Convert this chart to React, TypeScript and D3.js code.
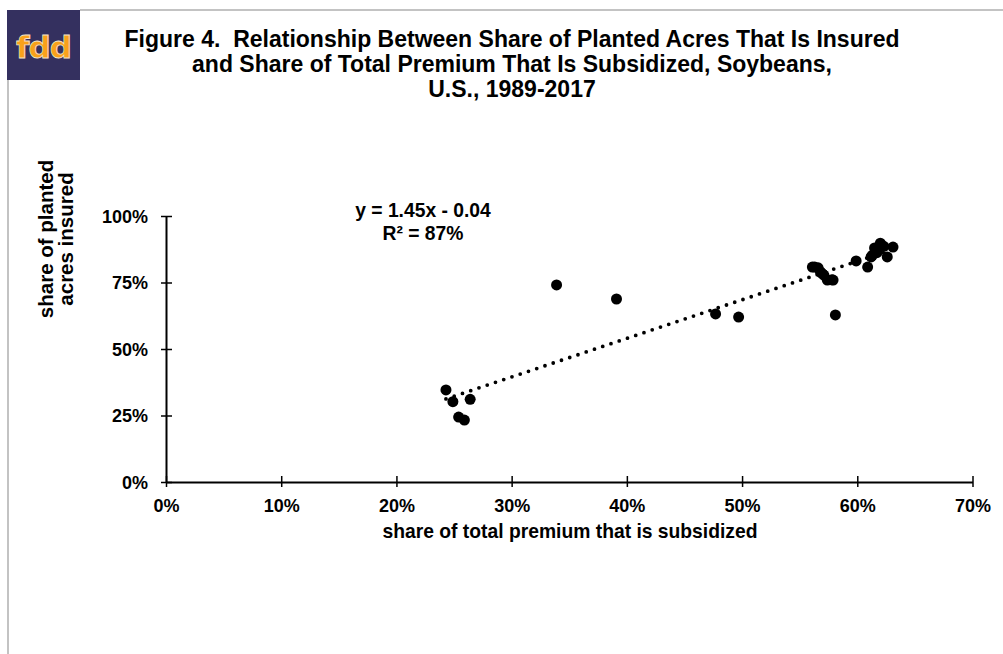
import React, { useEffect, useRef } from 'react';
import * as d3 from 'd3';

// share of total premium subsidized (x) vs share of planted acres insured (y), 1989-2017
const subsidized = [
  0.243, 0.249, 0.264, 0.254, 0.259, 0.339, 0.391, 0.477, 0.497, 0.581,
  0.561, 0.566, 0.568, 0.571, 0.574, 0.579, 0.563, 0.599, 0.609, 0.612,
  0.615, 0.620, 0.626, 0.631, 0.617, 0.613, 0.578, 0.569, 0.623,
];
const insured = [
  0.346, 0.302, 0.311, 0.244, 0.233, 0.741, 0.688, 0.632, 0.620, 0.628,
  0.808, 0.805, 0.790, 0.778, 0.759, 0.759, 0.808, 0.831, 0.808, 0.846,
  0.880, 0.898, 0.846, 0.883, 0.862, 0.852, 0.760, 0.785, 0.886,
];

const xTicks = [0, 0.1, 0.2, 0.3, 0.4, 0.5, 0.6, 0.7];
const yTicks = [0, 0.25, 0.5, 0.75, 1];

const slope = 1.45;
const intercept = -0.04;

const titleLines = [
  'Figure 4.  Relationship Between Share of Planted Acres That Is Insured',
  'and Share of Total Premium That Is Subsidized, Soybeans,',
  'U.S., 1989-2017',
];

const font = '"Liberation Sans", Arial, sans-serif';

const App: React.FC = () => {
  const svgRef = useRef<SVGSVGElement | null>(null);

  useEffect(() => {
    const width = 1003;
    const height = 654;
    const left = 166;
    const right = 972.5;
    const top = 216;
    const bottom = 482;

    const svg = d3.select(svgRef.current);
    svg.selectAll('*').remove();
    svg.attr('width', width).attr('height', height).attr('viewBox', [0, 0, width, height]);

    svg.append('rect').attr('width', width).attr('height', height).attr('fill', 'white');

    // frame
    svg.append('line')
      .attr('x1', 80).attr('x2', width).attr('y1', 10).attr('y2', 10)
      .attr('stroke', '#c3c3c3').attr('stroke-width', 2);
    svg.append('line')
      .attr('x1', 8).attr('x2', 8).attr('y1', 80).attr('y2', height)
      .attr('stroke', '#c3c3c3').attr('stroke-width', 2);

    // logo
    svg.append('rect')
      .attr('x', 7).attr('y', 10).attr('width', 73).attr('height', 70)
      .attr('fill', '#34305f');
    svg.append('text')
      .attr('x', 43.5).attr('y', 58)
      .attr('text-anchor', 'middle')
      .attr('font-family', '"DejaVu Sans", sans-serif')
      .attr('font-weight', 'bold')
      .attr('font-size', 31)
      .attr('letter-spacing', -1)
      .attr('fill', '#f9a11b')
      .attr('stroke', '#f4e3c8').attr('stroke-width', 0.8)
      .text('fdd');

    // title
    svg.append('g')
      .selectAll('text')
      .data(titleLines)
      .join('text')
      .attr('x', 512)
      .attr('y', (_, i) => 47 + i * 25)
      .attr('text-anchor', 'middle')
      .attr('font-family', font)
      .attr('font-weight', 'bold')
      .attr('font-size', 23)
      .attr('fill', '#000')
      .style('white-space', 'pre')
      .text(d => d);

    const x = d3.scaleLinear().domain([0, 0.7]).range([left, right]);
    const y = d3.scaleLinear().domain([0, 1]).range([bottom, top]);
    const pct = d3.format('.0%');

    // axes
    const xAxis = svg.append('g')
      .attr('transform', `translate(0,${bottom})`)
      .call(d3.axisBottom(x).tickValues(xTicks).tickSize(0).tickPadding(0).tickFormat(() => ''));
    xAxis.select('.domain').attr('stroke', '#000').attr('stroke-width', 2);
    xAxis.selectAll('.tick').append('line')
      .attr('y1', -6).attr('y2', 5).attr('stroke', '#000').attr('stroke-width', 1.5);
    xAxis.selectAll('.tick').append('text')
      .attr('y', 30).attr('fill', '#000')
      .attr('font-family', font).attr('font-weight', 'bold').attr('font-size', 18)
      .attr('text-anchor', 'middle')
      .text((d: any) => pct(d));

    const yAxis = svg.append('g')
      .attr('transform', `translate(${left},0)`)
      .call(d3.axisLeft(y).tickValues(yTicks).tickSize(0).tickPadding(0).tickFormat(() => ''));
    yAxis.select('.domain').attr('stroke', '#000').attr('stroke-width', 2);
    yAxis.selectAll('.tick').append('line')
      .attr('x1', -5).attr('x2', 6).attr('stroke', '#000').attr('stroke-width', 1.5);
    yAxis.selectAll('.tick').append('text')
      .attr('x', -18).attr('dy', '0.36em').attr('fill', '#000')
      .attr('font-family', font).attr('font-weight', 'bold').attr('font-size', 18)
      .attr('text-anchor', 'end')
      .text((d: any) => pct(d));

    // axis titles
    svg.append('text')
      .attr('x', 570).attr('y', 538)
      .attr('text-anchor', 'middle')
      .attr('font-family', font).attr('font-weight', 'bold').attr('font-size', 19.3)
      .text('share of total premium that is subsidized');
    const yTitle = svg.append('text')
      .attr('transform', 'translate(53,239) rotate(-90)')
      .attr('text-anchor', 'middle')
      .attr('font-family', font).attr('font-weight', 'bold').attr('font-size', 20.5);
    yTitle.append('tspan').attr('x', 0).attr('y', 0).text('share of planted');
    yTitle.append('tspan').attr('x', 0).attr('y', 20).text('acres insured');

    // trend line
    const [xMin, xMax] = d3.extent(subsidized) as [number, number];
    svg.append('line')
      .attr('x1', x(xMin)).attr('y1', y(slope * xMin + intercept))
      .attr('x2', x(xMax)).attr('y2', y(slope * xMax + intercept))
      .attr('stroke', '#000')
      .attr('stroke-width', 3.8)
      .attr('stroke-linecap', 'round')
      .attr('stroke-dasharray', '0 8.7');

    // points
    svg.append('g')
      .selectAll('circle')
      .data(subsidized.map((v, i) => [v, insured[i]]))
      .join('circle')
      .attr('cx', d => x(d[0]))
      .attr('cy', d => y(d[1]))
      .attr('r', 5.5)
      .attr('fill', '#000');

    // equation
    const eq = svg.append('text')
      .attr('text-anchor', 'middle')
      .attr('font-family', font).attr('font-weight', 'bold').attr('font-size', 19.3);
    eq.append('tspan').attr('x', 423).attr('y', 217).text('y = 1.45x - 0.04');
    eq.append('tspan').attr('x', 423).attr('y', 240).text('R² = 87%');
  }, []);

  return <svg ref={svgRef} style={{ position: 'absolute', left: 0, top: 0, display: 'block' }} />;
};

export default App;
